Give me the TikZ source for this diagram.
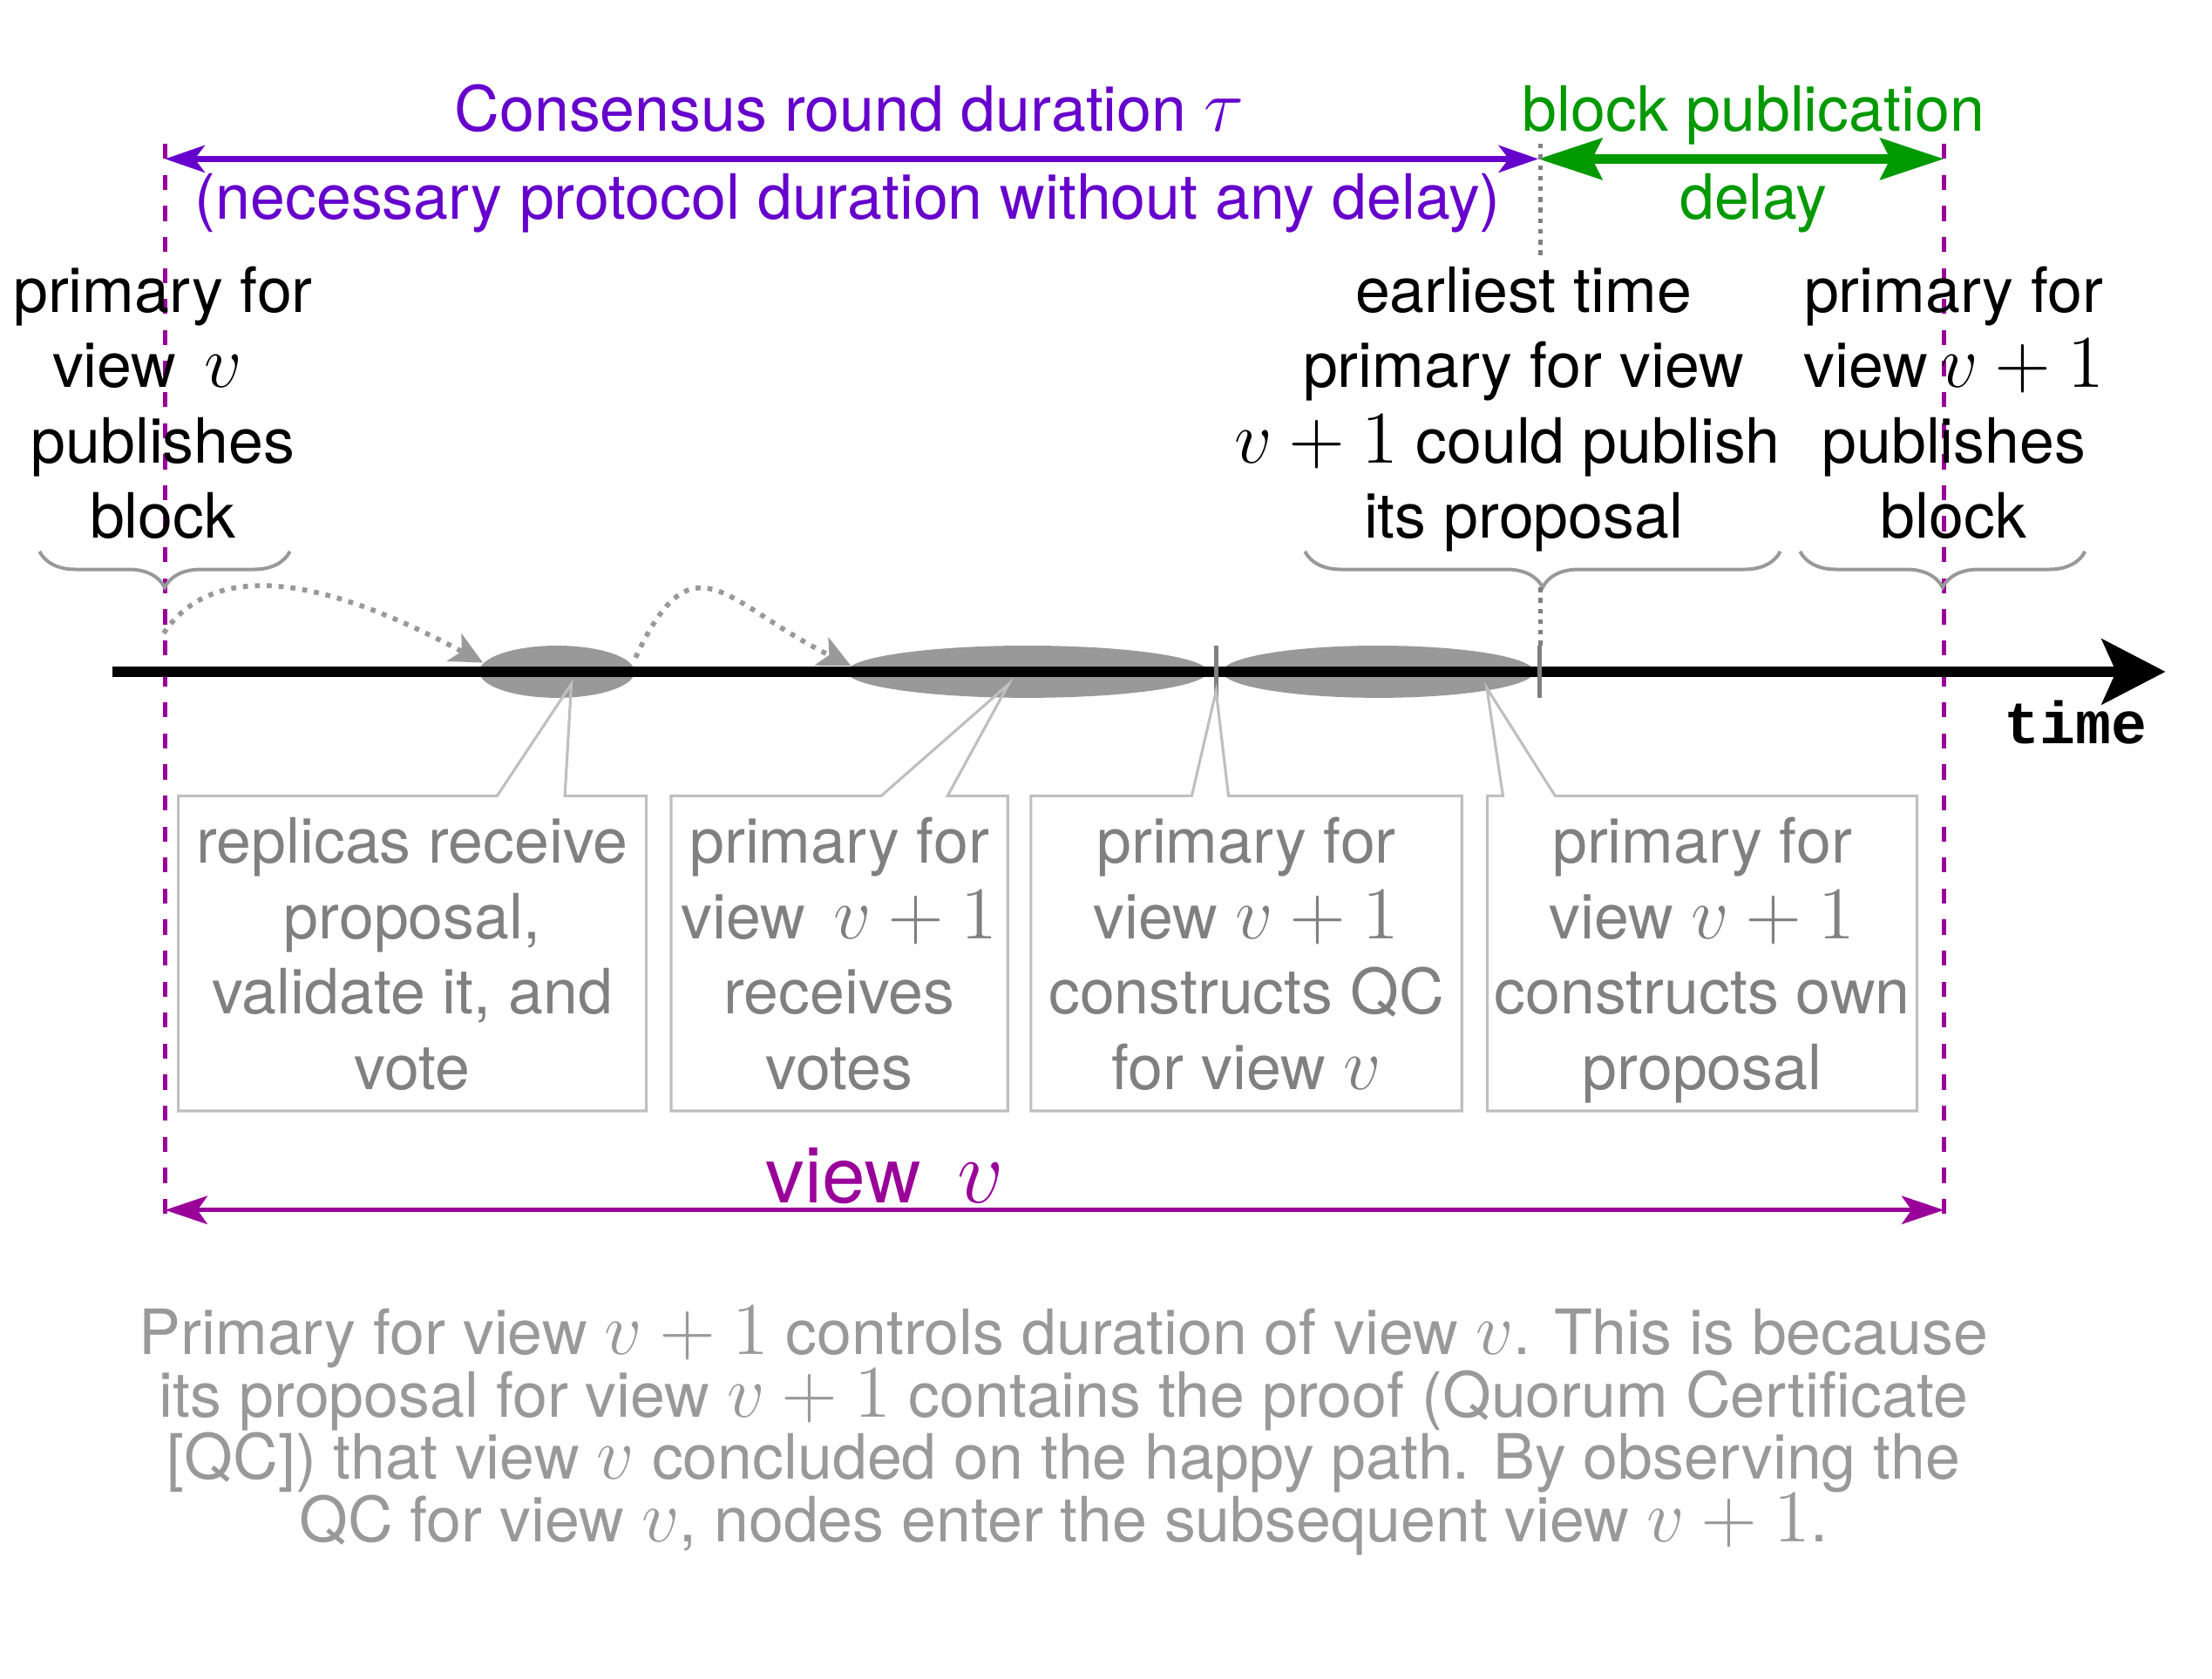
\RequirePackage{fix-cm}
\documentclass[tikz,border=0pt]{standalone}
\usepackage[no-math]{fontspec}
\setmainfont{TeX Gyre Heros}
\setmonofont{Liberation Mono}
\usetikzlibrary{arrows.meta,calc,decorations.pathreplacing,shapes.geometric}

\definecolor{roundpurple}{RGB}{102,0,204}
\definecolor{pubgreen}{RGB}{0,153,0}
\definecolor{viewmag}{RGB}{153,0,153}
\definecolor{phasegray}{RGB}{153,153,153}
\definecolor{tickgray}{RGB}{128,128,128}
\definecolor{boxline}{RGB}{191,191,191}
\definecolor{boxtext}{RGB}{128,128,128}
\definecolor{notegray}{RGB}{153,153,153}

% math is set larger than the text around it
\newcommand{\mth}[2][15]{{\fontsize{#1}{15.2}\selectfont$#2$}}
\newcommand{\tightlines}{\lineskiplimit=-1cm\relax}

\begin{document}
\begin{tikzpicture}[
  lbl/.style={align=center,inner sep=0pt,font=\fontsize{12.6}{15.2}\selectfont},
  phase/.style={ellipse,fill=phasegray,inner sep=0pt,minimum height=0.37cm},
  stepbox/.style={lbl,text=boxtext,minimum height=2.22cm,text depth=0pt},
  boxedge/.style={boxline,line width=0.55pt},
  bound/.style={viewmag,line width=1pt,dash pattern=on 0.107cm off 0.113cm},
  flow/.style={phasegray,line width=1pt,dash pattern=on 1pt off 1.4pt,
    -{Stealth[length=2.3mm,width=2.2mm,inset=0.6mm]}},
  tickmark/.style={tickgray,line width=0.95pt},
  guide/.style={tickgray,line width=0.95pt,dash pattern=on 0.95pt off 1.2pt},
  grp/.style={decorate,decoration={brace,mirror,amplitude=0.255cm},phasegray,line width=0.7pt},
]
\useasboundingbox (0,0) rectangle (15.68,-11.90);

% view boundaries
\coordinate (vtop) at (1.17,-1.02);
\coordinate (vbot) at (1.17,-8.64);
\coordinate (wtop) at (13.78,-1.02);
\coordinate (wbot) at (13.78,-8.64);
\draw[bound] (vtop) -- (vbot);
\draw[bound] (wtop) -- (wbot);
\draw[viewmag,line width=0.9pt,{Stealth[length=3mm,width=2mm,inset=0.7mm]}-{Stealth[length=3mm,width=2mm,inset=0.7mm]}]
  ($(vbot)+(0,0.06)$) -- ($(wbot)+(0,0.06)$);
\node[anchor=base,inner sep=0pt,text=viewmag,font=\fontsize{15.7}{18}\selectfont] (view) at (6.275,-8.526) {view \mth[18.5]{\,v}};

% round duration and publication delay
\coordinate (vs) at (1.17,-1.127);
\coordinate (pub) at (10.905,-1.127);
\coordinate (ve) at (13.78,-1.127);
\draw[roundpurple,line width=1.35pt,{Stealth[length=2.8mm,width=1.9mm,inset=0.7mm]}-{Stealth[length=2.8mm,width=1.9mm,inset=0.7mm]}] (vs) -- (pub);
\draw[pubgreen,line width=1.9pt,{Stealth[length=4.5mm,width=2.9mm,inset=0.7mm]}-{Stealth[length=4.5mm,width=2.9mm,inset=0.7mm]}] (pub) -- (ve);
\node[lbl,anchor=base,text=roundpurple] (cons) at (6.02,-0.927) {Consensus round duration \mth{\tau}};
\node[lbl,anchor=base,text=roundpurple] (necc) at (6.01,-1.555) {(necessary protocol duration without any delay)};
\node[lbl,anchor=base,text=pubgreen] (pubt) at (12.43,-0.927) {block publication};
\node[lbl,anchor=base,text=pubgreen] (pubd) at (12.43,-1.555) {delay};

% events above the time line
\node[lbl] (prim) at (1.155,-2.855) {primary for\\view\,\ \mth{v}\rule{6.3pt}{0pt}\\publishes\\block};
\node[lbl] (earl) at (10.80,-2.902) {earliest time\\primary for view\\\mth{v+1} could publish\rule{6.5pt}{0pt}\\its proposal};
\node[lbl] (next) at (13.85,-2.855) {primary for\\view\mth{\,v+1}\\publishes\\block};
\draw[grp] (0.28,-3.91) -- (2.055,-3.91);
\draw[grp] (9.25,-3.91) -- (12.62,-3.91);
\draw[grp] (12.76,-3.91) -- (14.78,-3.91);
\draw[guide] (10.92,-1.02) -- (10.92,-1.835);
\draw[guide] (10.92,-4.165) -- (10.92,-4.578);

% phases on the time line
\node[phase,minimum width=1.10cm] (recv) at (3.948,-4.763) {};
\node[phase,minimum width=2.556cm] (votes) at (7.282,-4.763) {};
\node[phase,minimum width=2.208cm] (qc) at (9.77,-4.763) {};
\coordinate (t0) at (0.794,-4.763);
\coordinate (t1) at (15.35,-4.763);
\draw[line width=2.2pt,-{Stealth[length=4.5mm,width=4.6mm,inset=1mm]}] (t0) -- (t1);
\foreach \x in {8.62,10.915}
  \draw[tickmark] (\x,-4.578) -- (\x,-4.947);
\node[anchor=base,inner sep=0pt,font=\fontsize{12}{14}\selectfont\ttfamily\bfseries] (time) at (14.715,-5.276) {time};

% callouts
\node[stepbox,minimum width=3.304cm] (b1) at (2.923,-6.76) {replicas receive\\proposal,\\validate it, and\\vote};
\node[stepbox,minimum width=2.372cm] (b2) at (5.95,-6.76) {primary for\\view\,\ \mth{v+1}\\receives\\votes};
\node[stepbox,minimum width=3.04cm] (b3) at (8.835,-6.76) {primary for\\view \mth{v+1}\\constructs QC\\for view \mth{v}};
\node[stepbox,minimum width=3.031cm] (b4) at (12.066,-6.76) {primary for\\view \mth{v+1}\\constructs own\\proposal};
\coordinate (p1) at (4.05,-4.85);
\coordinate (p2) at (7.15,-4.85);
\coordinate (p3) at (8.62,-4.90);
\coordinate (p4) at (10.54,-4.88);
\foreach \b/\l/\r/\p in {b1/2.26/2.74/p1,b2/1.49/1.96/p2,b3/1.14/1.40/p3,b4/0.11/0.48/p4}
  \draw[boxedge] (\b.north west) -- ++(\l,0) -- (\p) -- ($(\b.north west)+(\r,0)$)
    -- (\b.north east) -- (\b.south east) -- (\b.south west) -- cycle;

% message flow
\coordinate (start) at (1.16,-4.49);
\draw[flow] (start) to[out=56,in=152,looseness=0.92] (recv.173);
\draw[flow] ($(recv.east)+(0,0.10)$) to[out=65,in=154,looseness=1.65] (votes.178);

% note
\node[lbl,text=notegray,font=\fontsize{12.6}{12.6}\selectfont\tightlines] (note) at (7.54,-10.147)
  {Primary for view \mth{v+1} controls duration of view \mth{v}. This is because\\its proposal for view \mth{v+1} contains the proof (Quorum Certificate\\{}[QC]) that view \mth{v} concluded on the happy path. By observing the\\QC for view \mth{v}, nodes enter the subsequent view \mth{v+1}.};
\end{tikzpicture}
\end{document}
